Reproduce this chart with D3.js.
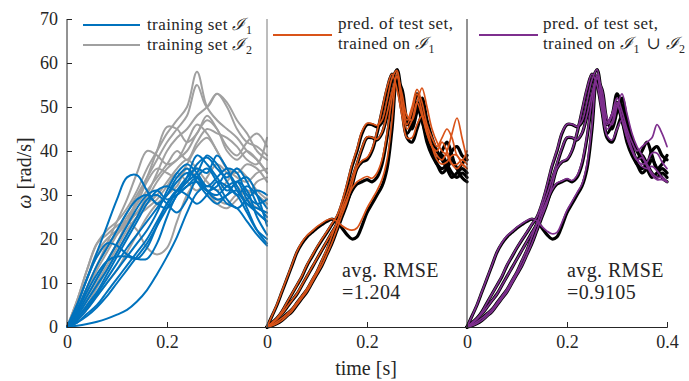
<!DOCTYPE html>
<html>
<head>
<meta charset="utf-8">
<script src="https://cdn.jsdelivr.net/npm/d3@7"></script>
<style>
  body { margin: 0; background: #fff; }
  svg { display: block; }
  text { fill: #262626; }
</style>
</head>
<body>
<svg id="chart" width="689" height="381" font-family="'Liberation Serif', 'DejaVu Serif', serif"></svg>
<script>
// time bases (s)
var tTrain = d3.range(0, 21).map(function (i) { return i * 0.02; });
var tTest = d3.range(0, 41).map(function (i) { return i * 0.01; });

var yTicks = [0, 10, 20, 30, 40, 50, 60, 70];
var xTicks = [0, 0.2, 0.4];
var xTickLabels = [['0', '0.2', ''], ['0', '0.2', ''], ['0', '0.2', '0.4']];

// training set I1 (blue)
var trainBlue = [
    [0, 5, 11, 17, 23, 29, 34, 34.5, 31, 28, 30, 33, 35, 34, 31, 30, 32, 33, 29, 26, 24],
    [0, 5, 11, 16, 19, 18.5, 16.5, 15.5, 15.5, 19, 25, 30, 32, 33, 31, 32, 35, 32, 27, 22, 19],
    [0, 3.5, 8, 12, 15, 16, 16, 15.5, 18, 23, 28, 31, 33, 37, 38.5, 36, 34, 36, 33, 28, 25],
    [0, 0.3, 0.7, 1.2, 1.9, 2.8, 3.9, 5.8, 8.4, 12, 16, 20.5, 26, 30.5, 32, 31, 28, 27, 24, 21, 18.5],
    [0, 1, 2.5, 4.5, 7, 10, 13, 16, 19, 23, 27, 31, 34, 36, 35, 39, 36, 31, 28, 27, 26],
    [0, 2, 5, 8, 12, 16, 20, 24, 28, 31, 32, 31, 33, 35, 39, 37, 33, 30, 32, 30, 27],
    [0, 3, 7, 11, 15, 19, 23, 27, 30, 31, 29, 30, 32, 34, 31, 29, 30, 33, 31, 25, 21],
    [0, 1.5, 4, 7, 10, 13, 16, 19, 22, 26, 31, 35, 37, 35, 32, 34, 36, 35, 30, 28, 29],
    [0, 2.5, 6, 9.5, 13, 17, 21, 25, 29, 30, 28, 26, 29, 34, 36, 33, 29, 27, 29, 31, 30],
    [0, 1, 3, 5, 8, 11, 14, 17, 20, 24, 28, 31, 30, 28, 30, 33, 32, 30, 26, 22, 20],
    [0, 4, 9, 14, 18, 22, 26, 29, 30, 28, 27, 30, 34, 39, 37, 34, 31, 33, 34, 30, 23],
    [0, 2, 4.5, 7.5, 11, 14.5, 18, 21, 24, 27, 30, 34, 36, 33, 30, 28, 30, 31, 28, 26, 24]
];

// training set I2 (gray)
var trainGray = [
    [0, 6, 13, 19, 22, 24, 27, 31, 36, 40, 44, 47, 50, 58, 50, 47, 45, 43, 40, 38, 35],
    [0, 4, 9, 14, 18, 22, 26, 30, 34, 38, 42, 45, 48, 55, 50, 53, 50, 45, 42, 41, 39],
    [0, 5, 11, 17, 20, 22, 24, 26, 30, 35, 40, 43, 45, 48, 50, 53, 51, 47, 44, 40, 38],
    [0, 3, 7, 11, 15, 19, 24, 29, 34, 40, 45.5, 45, 42, 44, 48, 45, 41, 39, 42, 44, 41],
    [0, 4, 9, 14, 19, 24, 29, 35, 40, 39, 37, 38, 42, 46, 44, 40, 36, 35, 37, 36, 33],
    [0, 6, 13, 19, 21, 23, 24, 22, 18, 16.5, 18, 24, 30, 33, 31, 29, 28, 30, 29, 27, 26],
    [0, 2, 5, 9, 13, 17, 21, 25, 29, 33, 36, 38, 40, 44, 47, 45, 40, 38, 40, 38, 35],
    [0, 3, 7, 11, 15, 19, 23, 26, 28, 30, 33, 36, 38, 36, 33, 31, 33, 36, 34, 31, 29],
    [0, 5, 11, 16, 19, 21, 24, 28, 33, 36, 35, 34, 37, 41, 43, 40, 36, 34, 33, 35, 36],
    [0, 1.5, 4, 7, 10, 13, 17, 21, 25, 28, 30, 32, 36, 34, 31, 28, 27, 29, 31, 30, 28],
    [0, 3.5, 8, 13, 17, 21, 25, 28, 31, 34, 37, 40, 38, 42, 45, 44, 43, 41, 38, 37, 43],
    [0, 2.5, 6, 10, 14, 18, 22, 25, 27, 29, 32, 35, 33, 31, 34, 37, 35, 32, 30, 33, 34]
];

// test set (black, ground truth)
var testTruth = [
    [0, 2.5, 5, 8, 11, 14, 17, 19, 20.5, 21.5, 22.5, 23.3, 24, 24.5, 24, 22.5, 21, 20, 20.5, 23, 26, 28, 30, 32, 36, 45, 57, 52, 46, 48, 51, 47, 43, 40, 38, 39, 37, 35, 34, 35, 34],
    [0, 1, 2, 3.5, 5.5, 7.5, 9.5, 11.5, 14, 16, 18, 19.8, 21.5, 23.3, 25, 28, 32, 36.5, 40, 44, 46, 46, 45.5, 46.5, 51, 56, 58.5, 52, 46, 48, 53, 50, 45, 41, 38, 40, 42, 39, 36, 37, 39],
    [0, 0.8, 1.8, 3, 4.5, 6, 7.5, 9.5, 11.5, 13.5, 15.5, 17.5, 19.5, 21.5, 23.5, 27, 30, 33.5, 37, 40.5, 43, 43, 42.5, 44, 48, 53, 57, 50, 44, 46, 50, 47, 42, 39, 37, 35, 36, 38, 36, 34, 33],
    [0, 0.5, 1.2, 2, 3, 4, 5.5, 7, 8.5, 10.5, 12.5, 15, 17.5, 20.5, 23.5, 26, 28.5, 31, 32.5, 33, 33.5, 33, 34, 37, 43, 51, 56, 54, 47, 45, 49, 52, 47, 43, 40, 38, 36, 34, 35, 36, 35],
    [0, 0.3, 0.8, 1.5, 2.5, 3.5, 5, 6.5, 8, 10, 12, 14, 16.5, 19, 22, 25, 28, 32, 36, 37.5, 38, 40, 44, 49, 54, 57.5, 55, 49, 43, 42, 45, 48, 44, 40, 37, 36, 37, 40, 41, 39, 38]
];

// predictions, trained on I1 (orange)
var predI1 = [
    [0, 2.6, 5.2, 8.2, 11.2, 14.2, 17.2, 19.3, 20.8, 21.8, 22.8, 23.6, 24.3, 24.6, 24, 23, 22.3, 22, 22.5, 24.5, 27, 29, 31, 33.5, 38, 47, 58, 51, 46, 49, 53, 49, 44, 41, 40, 42, 40, 37, 36, 37, 36],
    [0, 1, 2.1, 3.6, 5.6, 7.6, 9.6, 11.7, 14.2, 16.2, 18.2, 20, 21.7, 23.5, 25.3, 28.5, 32.5, 37, 40.5, 44.5, 46.3, 46.2, 45.8, 47, 51.5, 56.5, 58.3, 51, 47, 50, 54, 51, 46, 43, 41, 43, 45, 43, 39, 38, 40],
    [0, 0.8, 1.8, 3, 4.6, 6.1, 7.6, 9.6, 11.6, 13.6, 15.6, 17.6, 19.6, 21.6, 23.6, 27.2, 30.3, 33.8, 37.3, 40.8, 43.2, 43.1, 42.7, 44.3, 48.5, 53.5, 57, 50, 45, 47, 51, 48, 44, 41, 39, 38, 40, 44, 47.5, 43, 38],
    [0, 0.5, 1.2, 2, 3, 4.1, 5.6, 7.1, 8.7, 10.7, 12.7, 15.2, 17.8, 20.8, 23.8, 26.5, 29, 31.5, 33, 33.7, 34.2, 33.8, 35, 38, 44, 52, 57, 53, 48, 47, 51, 54.3, 50, 45, 42, 40, 39, 37, 37, 38, 37],
    [0, 0.3, 0.8, 1.5, 2.5, 3.6, 5.1, 6.6, 8.1, 10.1, 12.1, 14.1, 16.6, 19.2, 22.3, 25.5, 28.5, 32.5, 36.3, 37.8, 38.5, 40.5, 44.5, 49.5, 54.5, 57.5, 54, 48, 43, 43, 46, 48, 45, 41, 38, 37, 37.5, 39, 39, 37, 36]
];

// predictions, trained on I1 u I2 (purple)
var predI12 = [
    [0, 2.5, 5.1, 8.1, 11.1, 14.1, 17.1, 19.2, 20.7, 21.7, 22.7, 23.5, 24.2, 24.6, 24.1, 22.8, 21.8, 21.2, 21.5, 23.8, 26.5, 28.5, 30.5, 32.5, 37, 46, 57.5, 52, 46, 48, 51, 47, 43, 40, 38, 38.5, 36.5, 34.5, 33.5, 33.5, 33],
    [0, 1, 2, 3.5, 5.5, 7.5, 9.5, 11.6, 14.1, 16.1, 18.1, 19.9, 21.6, 23.4, 25.1, 28.2, 32.2, 36.7, 40.2, 44.2, 46.1, 46.1, 45.6, 46.8, 51.2, 56.2, 58.5, 52, 46.5, 48.5, 52, 49, 45, 42, 40, 41, 42, 43, 46, 44, 41],
    [0, 0.8, 1.8, 3, 4.5, 6, 7.5, 9.5, 11.5, 13.5, 15.5, 17.5, 19.5, 21.5, 23.5, 27.1, 30.2, 33.7, 37.2, 40.7, 43.1, 43.1, 42.6, 44.1, 48.2, 53.2, 57, 50.5, 45, 46.5, 50.5, 47.5, 43, 40, 38, 36.5, 36, 36.5, 35.5, 34, 33],
    [0, 0.5, 1.2, 2, 3, 4, 5.5, 7, 8.6, 10.6, 12.6, 15.1, 17.6, 20.6, 23.6, 26.2, 28.7, 31.2, 32.7, 33.2, 33.7, 33.3, 34.4, 37.5, 43.5, 51.5, 56.5, 54, 47.5, 46, 50, 53, 48.5, 44, 41, 39, 37, 35, 34, 34, 33],
    [0, 0.3, 0.8, 1.5, 2.5, 3.5, 5, 6.5, 8, 10, 12, 14, 16.5, 19.1, 22.1, 25.2, 28.2, 32.2, 36.1, 37.6, 38.2, 40.2, 44.2, 49.2, 54.2, 57.5, 55, 49, 43.5, 42.5, 45, 47, 44, 40.5, 38, 37, 37.5, 39.5, 39.5, 37.5, 36]
];

var rmseLabels = ['=1.204', '=0.9105'];

var colors = {
    blue: '#0072BD',
    gray: '#a0a0a0',
    orange: '#D95319',
    purple: '#7E2F8E',
    black: '#000000'
};

var svg = d3.select('#chart');
var panelLeft = [67, 267, 467];
var panelWidth = 200;
var plotTop = 19;
var plotBottom = 327;

var yScale = d3.scaleLinear().domain([0, 70]).range([plotBottom, plotTop]);

function panelX(p) {
    return d3.scaleLinear().domain([0, 0.4]).range([panelLeft[p], panelLeft[p] + panelWidth]);
}

function drawLines(g, xScale, times, series, color, width) {
    var line = d3.line()
        .x(function (d, i) { return xScale(times[i]); })
        .y(function (d) { return yScale(d); })
        .curve(d3.curveCatmullRom.alpha(0.5));
    g.selectAll(null)
        .data(series)
        .enter()
        .append('path')
        .attr('d', line)
        .attr('fill', 'none')
        .attr('stroke', color)
        .attr('stroke-width', width)
        .attr('stroke-linejoin', 'round')
        .attr('stroke-linecap', 'round');
}

// curves
var x1 = panelX(0), x2 = panelX(1), x3 = panelX(2);
drawLines(svg.append('g'), x1, tTrain, trainGray, colors.gray, 2);
drawLines(svg.append('g'), x1, tTrain, trainBlue, colors.blue, 2);
drawLines(svg.append('g'), x2, tTest, testTruth, colors.black, 3.2);
drawLines(svg.append('g'), x2, tTest, predI1, colors.orange, 1.7);
drawLines(svg.append('g'), x3, tTest, testTruth, colors.black, 3.2);
drawLines(svg.append('g'), x3, tTest, predI12, colors.purple, 1.7);

// axes
var axisColor = '#262626';
for (var p = 0; p < 3; p++) {
    var xs = panelX(p);
    var labels = xTickLabels[p];
    var xAxis = d3.axisBottom(xs)
        .tickValues(xTicks)
        .tickSize(-5)
        .tickPadding(8)
        .tickFormat(function (d, i) { return labels[i]; });
    var gx = svg.append('g')
        .attr('transform', 'translate(0,' + plotBottom + ')')
        .call(xAxis)
        .attr('font-family', null)
        .attr('font-size', 18);
    gx.select('.domain').attr('stroke', axisColor);
    gx.selectAll('.tick line').attr('stroke', axisColor);
    gx.selectAll('text').style('fill', axisColor);

    svg.append('line')
        .attr('x1', panelLeft[p]).attr('x2', panelLeft[p])
        .attr('y1', plotTop).attr('y2', plotBottom)
        .attr('stroke', p == 1 ? '#7a7a7a' : axisColor)
        .attr('stroke-width', 1);
}

var yAxis = d3.axisLeft(yScale)
    .tickValues(yTicks)
    .tickSize(-5)
    .tickPadding(9);
var gy = svg.append('g')
    .attr('transform', 'translate(' + panelLeft[0] + ',0)')
    .call(yAxis)
    .attr('font-family', null)
    .attr('font-size', 18);
gy.select('.domain').remove();
gy.selectAll('.tick line').attr('stroke', axisColor);
gy.selectAll('text').style('fill', axisColor);

// axis labels
svg.append('text')
    .attr('transform', 'translate(31,173) rotate(-90)')
    .attr('text-anchor', 'middle')
    .attr('font-size', 20)
    .html('<tspan font-style="italic">ω</tspan> [rad/s]');

svg.append('text')
    .attr('x', 366)
    .attr('y', 375)
    .attr('text-anchor', 'middle')
    .attr('font-size', 20)
    .text('time [s]');

// legends
function legendLabel(x, y, pre, subs) {
    var t = svg.append('text')
        .attr('x', x)
        .attr('y', y)
        .attr('font-size', 17)
        .attr('letter-spacing', 0.4);
    t.append('tspan').text(pre);
    for (var i = 0; i < subs.length; i++) {
        if (subs[i].op) {
            t.append('tspan').text(subs[i].op);
        }
        t.append('tspan').attr('font-style', 'italic').text('ℐ');
        t.append('tspan').attr('font-size', 12).attr('dy', 4).text(subs[i].n);
        t.append('tspan').attr('dy', -4).text('\u200a');
    }
    return t;
}

svg.append('line').attr('x1', 83).attr('x2', 140).attr('y1', 25).attr('y2', 25)
    .attr('stroke', colors.blue).attr('stroke-width', 2);
legendLabel(147, 30, 'training set ', [{ n: '1' }]);
svg.append('line').attr('x1', 83).attr('x2', 140).attr('y1', 45).attr('y2', 45)
    .attr('stroke', colors.gray).attr('stroke-width', 2);
legendLabel(147, 50, 'training set ', [{ n: '2' }]);

svg.append('line').attr('x1', 273).attr('x2', 332).attr('y1', 35).attr('y2', 35)
    .attr('stroke', colors.orange).attr('stroke-width', 2);
legendLabel(338, 29, 'pred. of test set,', []);
legendLabel(338, 49, 'trained on ', [{ n: '1' }]);

svg.append('line').attr('x1', 479).attr('x2', 538).attr('y1', 35).attr('y2', 35)
    .attr('stroke', colors.purple).attr('stroke-width', 2);
legendLabel(543, 29, 'pred. of test set,', []);
legendLabel(543, 49, 'trained on ', [{ n: '1' }, { op: ' ∪ ', n: '2' }]);

// RMSE annotations
var rmseX = [342, 567];
for (var k = 0; k < 2; k++) {
    svg.append('text').attr('x', rmseX[k]).attr('y', 277).attr('font-size', 20).attr('letter-spacing', 0.4).text('avg. RMSE');
    svg.append('text').attr('x', rmseX[k]).attr('y', 299).attr('font-size', 20).attr('letter-spacing', 0.4).text(rmseLabels[k]);
}
</script>
</body>
</html>
